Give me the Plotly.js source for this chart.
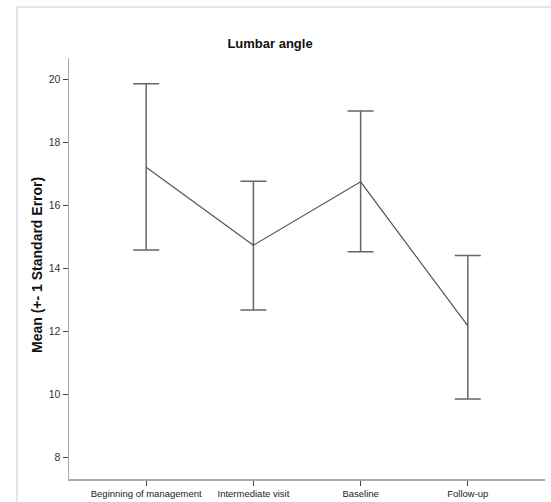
<!DOCTYPE html>
<html>
<head>
<meta charset="utf-8">
<script src="https://cdn.plot.ly/plotly-3.0.1.min.js"></script>
<style>html,body{margin:0;padding:0;background:#fff;}#chart{width:551px;height:502px;}</style>
</head>
<body>
<div id="chart"></div>
<script>
var categories = ["Beginning of management", "Intermediate visit", "Baseline", "Follow-up"];
var meanValues = [17.21, 14.74, 16.75, 12.18];
var upperValues = [19.86, 16.77, 19.0, 14.41];
var lowerValues = [14.59, 12.68, 14.53, 9.86];
var yTickValues = [8, 10, 12, 14, 16, 18, 20];

var errPlus = meanValues.map(function (m, i) { return upperValues[i] - m; });
var errMinus = meanValues.map(function (m, i) { return m - lowerValues[i]; });

var trace = {
  x: categories,
  y: meanValues,
  type: 'scatter',
  mode: 'lines',
  line: {color: '#555555', width: 1.2},
  error_y: {
    type: 'data',
    symmetric: false,
    array: errPlus,
    arrayminus: errMinus,
    color: '#666666',
    thickness: 1.5,
    width: 13
  },
  hoverinfo: 'none',
  showlegend: false
};

var layout = {
  width: 551,
  height: 502,
  margin: {l: 69, r: 6, t: 58, b: 23, pad: 0},
  paper_bgcolor: '#ffffff',
  plot_bgcolor: '#ffffff',
  font: {family: 'Liberation Sans, Arial, sans-serif', color: '#222222'},
  title: {
    text: '<b>Lumbar angle</b>',
    font: {size: 13, color: '#111111', family: 'Liberation Sans, Arial, sans-serif'},
    xref: 'container', x: 270 / 551, xanchor: 'center',
    yref: 'container', y: 1 - 43 / 502, yanchor: 'middle'
  },
  xaxis: {
    type: 'category',
    range: [-0.72, 3.72],
    showgrid: false,
    zeroline: false,
    showline: true,
    linecolor: '#aaaaaa',
    linewidth: 1.5,
    ticks: 'outside',
    ticklen: 5,
    tickcolor: '#444444',
    tickwidth: 1,
    tickfont: {size: 9.5, color: '#222222'},
    automargin: false,
    fixedrange: true
  },
  yaxis: {
    range: [7.32, 20.68],
    tickvals: yTickValues,
    ticktext: yTickValues.map(String),
    showgrid: false,
    zeroline: false,
    showline: true,
    linecolor: '#aaaaaa',
    linewidth: 1.5,
    ticks: 'outside',
    ticklen: 5,
    tickcolor: '#444444',
    tickwidth: 1,
    tickfont: {size: 10.5, color: '#333333'},
    automargin: false,
    fixedrange: true
  },
  annotations: [{
    text: '<b>Mean (+- 1 Standard Error)</b>',
    xref: 'paper', yref: 'paper',
    x: (37 - 69) / 476, y: (479 - 265) / 421,
    xanchor: 'center', yanchor: 'middle',
    textangle: -90,
    showarrow: false,
    font: {size: 14, color: '#111111', family: 'Liberation Sans, Arial, sans-serif'}
  }],
  shapes: [{
    type: 'rect',
    xref: 'paper', yref: 'paper',
    x0: (17 - 69) / 476, x1: 1.2,
    y0: -0.2, y1: (479 - 7) / 421,
    line: {color: '#cccccc', width: 1},
    fillcolor: 'rgba(0,0,0,0)',
    layer: 'below'
  }]
};

Plotly.newPlot('chart', [trace], layout, {displayModeBar: false, staticPlot: true});
</script>
</body>
</html>
